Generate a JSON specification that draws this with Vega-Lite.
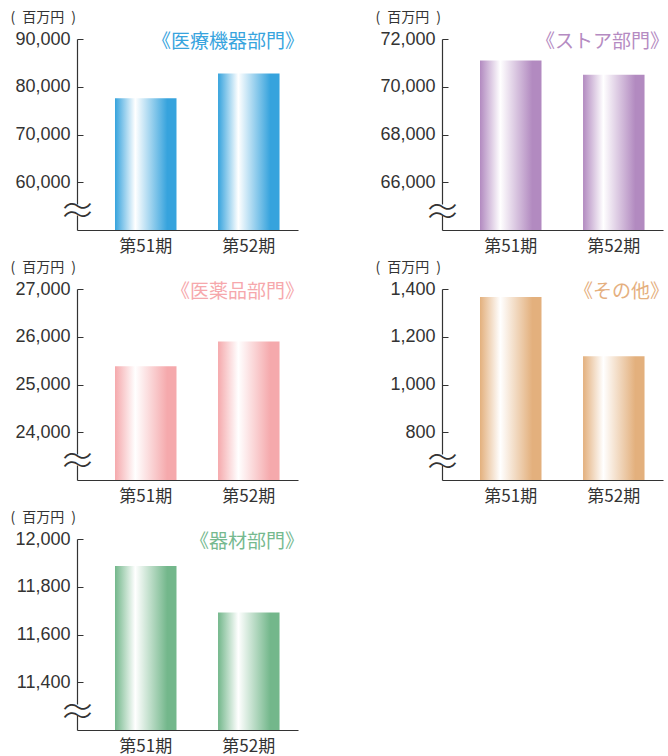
{
  "$schema": "https://vega.github.io/schema/vega-lite/v6.json",
  "background": "white",
  "padding": {"left": 10, "top": 10, "right": 0, "bottom": 0},
  "bounds": "flush",
  "columns": 2,
  "spacing": {"row": 59, "column": 144},
  "config": {
    "view": {"stroke": null},
    "axis": {"grid": false},
    "axisX": {"title": null, "labelAngle": 0, "ticks": false, "labelPadding": 8, "labelFontSize": 17, "labelFont": "Noto Sans CJK JP", "labelColor": "#333333", "domainColor": "#333333", "domainWidth": 1.2},
    "axisY": {"tickSize": -6, "tickColor": "#333333", "domainColor": "#333333", "domainWidth": 1.2, "domainDash": [15, 11, 400], "labelColor": "#333333", "labelOverlap": false, "format": ",d", "titleAngle": 0, "titleX": -67, "titleY": -22, "titleAlign": "left", "titleBaseline": "middle", "titleFontSize": 14, "titleFontWeight": "normal", "titleFont": "Noto Sans CJK JP", "titleColor": "#333333"},
    "title": {"anchor": "end", "frame": "group", "orient": "top", "fontSize": 19, "font": "Noto Sans CJK JP", "fontWeight": "normal", "baseline": "top", "offset": -42, "dx": 6}
  },
  "concat": [
    {
      "width": 221, "height": 191,
      "title": {"text": "《医療機器部門》", "color": "#38a4de"},
      "data": {"values": [{"period": "第51期", "sales": 77600}, {"period": "第52期", "sales": 82800}]},
      "mark": {"type": "bar", "clip": true, "color": {"gradient": "linear", "x1": 0, "x2": 1, "y1": 0, "y2": 0, "stops": [{"offset": 0, "color": "#36a3dd"}, {"offset": 0.33, "color": "#ffffff"}, {"offset": 0.85, "color": "#36a3dd"}, {"offset": 1, "color": "#36a3dd"}]}},
      "encoding": {
        "x": {"field": "period", "type": "nominal", "sort": null, "scale": {"paddingInner": 0.403, "paddingOuter": 0.274, "align": 0.673}},
        "y": {"field": "sales", "type": "quantitative", "scale": {"domain": [50000, 90000], "nice": false, "zero": false},
          "axis": {"title": "(\u2002百万円\u2002)", "values": [53600, 60000, 70000, 80000, 90000],
            "labelExpr": "datum.value < 60000 ? '≈' : datum.label",
            "tickOpacity": {"condition": {"test": "datum.value < 60000", "value": 0}, "value": 1},
            "labelPadding": {"condition": {"test": "datum.value < 60000", "value": 6}, "value": 13},
            "labelAlign": {"condition": {"test": "datum.value < 60000", "value": "center"}, "value": "right"},
            "labelFontSize": {"condition": {"test": "datum.value < 60000", "value": 36}, "value": 18},
            "labelFontWeight": {"condition": {"test": "datum.value < 60000", "value": 300}, "value": "normal"},
            "labelFont": {"condition": {"test": "datum.value < 60000", "value": "Noto Sans CJK JP"}, "value": "Liberation Sans"}}}
      }
    },
    {
      "width": 221, "height": 191,
      "title": {"text": "《ストア部門》", "color": "#b58bc2"},
      "data": {"values": [{"period": "第51期", "sales": 71100}, {"period": "第52期", "sales": 70500}]},
      "mark": {"type": "bar", "clip": true, "color": {"gradient": "linear", "x1": 0, "x2": 1, "y1": 0, "y2": 0, "stops": [{"offset": 0, "color": "#b28ac0"}, {"offset": 0.33, "color": "#ffffff"}, {"offset": 0.85, "color": "#b28ac0"}, {"offset": 1, "color": "#b28ac0"}]}},
      "encoding": {
        "x": {"field": "period", "type": "nominal", "sort": null, "scale": {"paddingInner": 0.403, "paddingOuter": 0.274, "align": 0.673}},
        "y": {"field": "sales", "type": "quantitative", "scale": {"domain": [64000, 72000], "nice": false, "zero": false},
          "axis": {"title": "(\u2002百万円\u2002)", "values": [64700, 66000, 68000, 70000, 72000],
            "labelExpr": "datum.value < 66000 ? '≈' : datum.label",
            "tickOpacity": {"condition": {"test": "datum.value < 66000", "value": 0}, "value": 1},
            "labelPadding": {"condition": {"test": "datum.value < 66000", "value": 6}, "value": 13},
            "labelAlign": {"condition": {"test": "datum.value < 66000", "value": "center"}, "value": "right"},
            "labelFontSize": {"condition": {"test": "datum.value < 66000", "value": 36}, "value": 18},
            "labelFontWeight": {"condition": {"test": "datum.value < 66000", "value": 300}, "value": "normal"},
            "labelFont": {"condition": {"test": "datum.value < 66000", "value": "Noto Sans CJK JP"}, "value": "Liberation Sans"}}}
      }
    },
    {
      "width": 221, "height": 191,
      "title": {"text": "《医薬品部門》", "color": "#f6a8ac"},
      "data": {"values": [{"period": "第51期", "sales": 25380}, {"period": "第52期", "sales": 25900}]},
      "mark": {"type": "bar", "clip": true, "color": {"gradient": "linear", "x1": 0, "x2": 1, "y1": 0, "y2": 0, "stops": [{"offset": 0, "color": "#f5a9ac"}, {"offset": 0.33, "color": "#ffffff"}, {"offset": 0.85, "color": "#f5a9ac"}, {"offset": 1, "color": "#f5a9ac"}]}},
      "encoding": {
        "x": {"field": "period", "type": "nominal", "sort": null, "scale": {"paddingInner": 0.403, "paddingOuter": 0.274, "align": 0.673}},
        "y": {"field": "sales", "type": "quantitative", "scale": {"domain": [23000, 27000], "nice": false, "zero": false},
          "axis": {"title": "(\u2002百万円\u2002)", "values": [23360, 24000, 25000, 26000, 27000],
            "labelExpr": "datum.value < 24000 ? '≈' : datum.label",
            "tickOpacity": {"condition": {"test": "datum.value < 24000", "value": 0}, "value": 1},
            "labelPadding": {"condition": {"test": "datum.value < 24000", "value": 6}, "value": 13},
            "labelAlign": {"condition": {"test": "datum.value < 24000", "value": "center"}, "value": "right"},
            "labelFontSize": {"condition": {"test": "datum.value < 24000", "value": 36}, "value": 18},
            "labelFontWeight": {"condition": {"test": "datum.value < 24000", "value": 300}, "value": "normal"},
            "labelFont": {"condition": {"test": "datum.value < 24000", "value": "Noto Sans CJK JP"}, "value": "Liberation Sans"}}}
      }
    },
    {
      "width": 221, "height": 191,
      "title": {"text": "《その他》", "color": "#e5b07f"},
      "data": {"values": [{"period": "第51期", "sales": 1367}, {"period": "第52期", "sales": 1118}]},
      "mark": {"type": "bar", "clip": true, "color": {"gradient": "linear", "x1": 0, "x2": 1, "y1": 0, "y2": 0, "stops": [{"offset": 0, "color": "#e3b07d"}, {"offset": 0.33, "color": "#ffffff"}, {"offset": 0.85, "color": "#e3b07d"}, {"offset": 1, "color": "#e3b07d"}]}},
      "encoding": {
        "x": {"field": "period", "type": "nominal", "sort": null, "scale": {"paddingInner": 0.403, "paddingOuter": 0.274, "align": 0.673}},
        "y": {"field": "sales", "type": "quantitative", "scale": {"domain": [600, 1400], "nice": false, "zero": false},
          "axis": {"title": "(\u2002百万円\u2002)", "values": [671, 800, 1000, 1200, 1400],
            "labelExpr": "datum.value < 800 ? '≈' : datum.label",
            "tickOpacity": {"condition": {"test": "datum.value < 800", "value": 0}, "value": 1},
            "labelPadding": {"condition": {"test": "datum.value < 800", "value": 6}, "value": 13},
            "labelAlign": {"condition": {"test": "datum.value < 800", "value": "center"}, "value": "right"},
            "labelFontSize": {"condition": {"test": "datum.value < 800", "value": 36}, "value": 18},
            "labelFontWeight": {"condition": {"test": "datum.value < 800", "value": 300}, "value": "normal"},
            "labelFont": {"condition": {"test": "datum.value < 800", "value": "Noto Sans CJK JP"}, "value": "Liberation Sans"}}}
      }
    },
    {
      "width": 221, "height": 191,
      "title": {"text": "《器材部門》", "color": "#76b98f"},
      "data": {"values": [{"period": "第51期", "sales": 11887}, {"period": "第52期", "sales": 11692}]},
      "mark": {"type": "bar", "clip": true, "color": {"gradient": "linear", "x1": 0, "x2": 1, "y1": 0, "y2": 0, "stops": [{"offset": 0, "color": "#73b78b"}, {"offset": 0.33, "color": "#ffffff"}, {"offset": 0.85, "color": "#73b78b"}, {"offset": 1, "color": "#73b78b"}]}},
      "encoding": {
        "x": {"field": "period", "type": "nominal", "sort": null, "scale": {"paddingInner": 0.403, "paddingOuter": 0.274, "align": 0.673}},
        "y": {"field": "sales", "type": "quantitative", "scale": {"domain": [11200, 12000], "nice": false, "zero": false},
          "axis": {"title": "(\u2002百万円\u2002)", "values": [11271, 11400, 11600, 11800, 12000],
            "labelExpr": "datum.value < 11400 ? '≈' : datum.label",
            "tickOpacity": {"condition": {"test": "datum.value < 11400", "value": 0}, "value": 1},
            "labelPadding": {"condition": {"test": "datum.value < 11400", "value": 6}, "value": 13},
            "labelAlign": {"condition": {"test": "datum.value < 11400", "value": "center"}, "value": "right"},
            "labelFontSize": {"condition": {"test": "datum.value < 11400", "value": 36}, "value": 18},
            "labelFontWeight": {"condition": {"test": "datum.value < 11400", "value": 300}, "value": "normal"},
            "labelFont": {"condition": {"test": "datum.value < 11400", "value": "Noto Sans CJK JP"}, "value": "Liberation Sans"}}}
      }
    }
  ]
}
